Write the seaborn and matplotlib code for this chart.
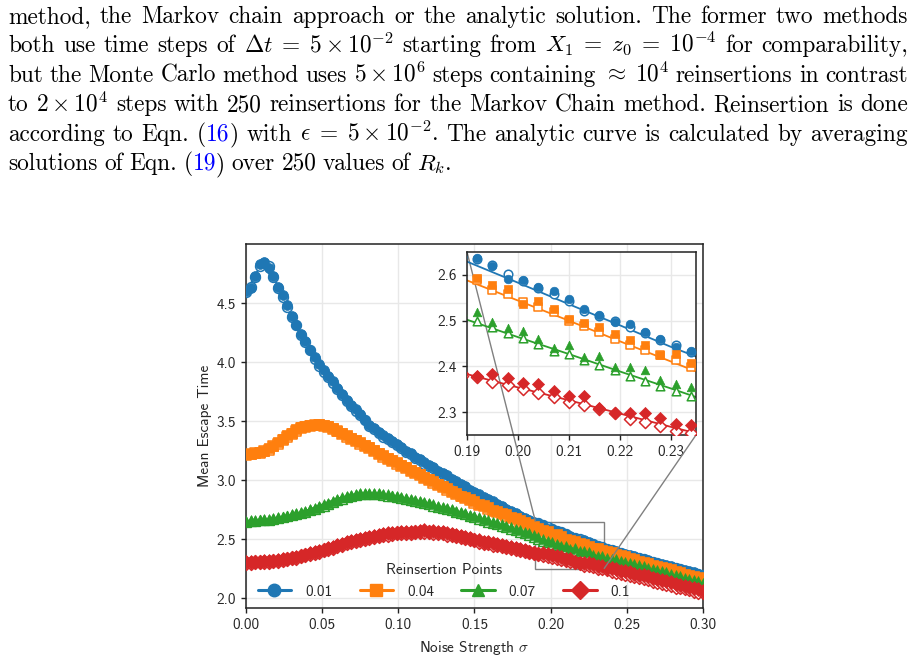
import re
import matplotlib
matplotlib.use("Agg")
import matplotlib.pyplot as plt
import seaborn as sns
from matplotlib.lines import Line2D
from mpl_toolkits.axes_grid1.inset_locator import mark_inset

sns.set_theme(style="ticks")
plt.rcParams["font.family"] = ["cmss10", "DejaVu Sans"]
plt.rcParams["mathtext.fontset"] = "cm"
plt.rcParams["axes.unicode_minus"] = False

# noise strength grid of the simulations
sigma = [
    0.000, 0.003, 0.006, 0.009, 0.012, 0.015, 0.018, 0.021, 0.024, 0.027,
    0.030, 0.033, 0.036, 0.039, 0.042, 0.045, 0.048, 0.051, 0.054, 0.057,
    0.060, 0.063, 0.066, 0.069, 0.072, 0.075, 0.078, 0.081, 0.084, 0.087,
    0.090, 0.093, 0.096, 0.099, 0.102, 0.105, 0.108, 0.111, 0.114, 0.117,
    0.120, 0.123, 0.126, 0.129, 0.132, 0.135, 0.138, 0.141, 0.144, 0.147,
    0.150, 0.153, 0.156, 0.159, 0.162, 0.165, 0.168, 0.171, 0.174, 0.177,
    0.180, 0.183, 0.186, 0.189, 0.192, 0.195, 0.198, 0.201, 0.204, 0.207,
    0.210, 0.213, 0.216, 0.219, 0.222, 0.225, 0.228, 0.231, 0.234, 0.237,
    0.240, 0.243, 0.246, 0.249, 0.252, 0.255, 0.258, 0.261, 0.264, 0.267,
    0.270, 0.273, 0.276, 0.279, 0.282, 0.285, 0.288, 0.291, 0.294, 0.297,
    0.300,
]
# grid of the analytic curves
sigma_an = [
    0.00, 0.01, 0.02, 0.03, 0.04, 0.05, 0.06, 0.07, 0.08, 0.09, 0.10,
    0.11, 0.12, 0.13, 0.14, 0.15, 0.16, 0.17, 0.18, 0.19, 0.20,
    0.21, 0.22, 0.23, 0.24, 0.25, 0.26, 0.27, 0.28, 0.29, 0.30,
]

# Monte Carlo (filled markers)
mc_001 = [
    4.60, 4.63, 4.73, 4.83, 4.85, 4.80, 4.73, 4.64, 4.57, 4.48,
    4.39, 4.31, 4.24, 4.18, 4.10, 4.04, 3.98, 3.93, 3.88, 3.84,
    3.78, 3.73, 3.68, 3.64, 3.60, 3.56, 3.51, 3.47, 3.44, 3.41,
    3.38, 3.36, 3.33, 3.31, 3.28, 3.25, 3.23, 3.20, 3.18, 3.15,
    3.13, 3.11, 3.08, 3.06, 3.04, 3.01, 2.99, 2.97, 2.95, 2.92,
    2.90, 2.88, 2.86, 2.84, 2.82, 2.80, 2.78, 2.76, 2.74, 2.72,
    2.70, 2.68, 2.665, 2.65, 2.636, 2.620, 2.591, 2.588, 2.574, 2.565,
    2.547, 2.525, 2.512, 2.496, 2.493, 2.475, 2.459, 2.443, 2.433, 2.42,
    2.41, 2.40, 2.385, 2.375, 2.365, 2.355, 2.345, 2.335, 2.325, 2.31,
    2.30, 2.29, 2.28, 2.27, 2.26, 2.25, 2.24, 2.23, 2.22, 2.21,
    2.20,
]
mc_004 = [
    3.22, 3.22, 3.23, 3.24, 3.25, 3.27, 3.29, 3.32, 3.35, 3.38,
    3.40, 3.43, 3.45, 3.46, 3.47, 3.47, 3.48, 3.47, 3.46, 3.44,
    3.42, 3.40, 3.38, 3.36, 3.34, 3.32, 3.30, 3.28, 3.26, 3.23,
    3.21, 3.19, 3.17, 3.15, 3.13, 3.11, 3.09, 3.07, 3.05, 3.03,
    3.01, 2.99, 2.97, 2.95, 2.93, 2.91, 2.89, 2.87, 2.86, 2.84,
    2.82, 2.80, 2.79, 2.77, 2.75, 2.74, 2.72, 2.71, 2.69, 2.68,
    2.66, 2.645, 2.63, 2.61, 2.593, 2.578, 2.569, 2.536, 2.542, 2.525,
    2.504, 2.494, 2.487, 2.470, 2.457, 2.446, 2.424, 2.428, 2.408, 2.40,
    2.39, 2.375, 2.365, 2.355, 2.34, 2.33, 2.32, 2.31, 2.295, 2.285,
    2.275, 2.265, 2.255, 2.245, 2.235, 2.225, 2.21, 2.20, 2.19, 2.18,
    2.17,
]
mc_007 = [
    2.655, 2.66, 2.66, 2.665, 2.67, 2.67, 2.68, 2.685, 2.69, 2.70,
    2.71, 2.72, 2.73, 2.74, 2.755, 2.765, 2.78, 2.795, 2.81, 2.825,
    2.84, 2.855, 2.865, 2.875, 2.885, 2.89, 2.895, 2.895, 2.89, 2.89,
    2.885, 2.88, 2.87, 2.865, 2.86, 2.85, 2.84, 2.835, 2.825, 2.815,
    2.805, 2.795, 2.785, 2.775, 2.765, 2.755, 2.74, 2.73, 2.72, 2.705,
    2.695, 2.685, 2.675, 2.66, 2.65, 2.64, 2.625, 2.615, 2.60, 2.59,
    2.575, 2.565, 2.55, 2.535, 2.518, 2.498, 2.484, 2.478, 2.460, 2.441,
    2.446, 2.420, 2.423, 2.399, 2.399, 2.393, 2.370, 2.361, 2.355, 2.345,
    2.335, 2.33, 2.32, 2.31, 2.30, 2.29, 2.28, 2.27, 2.26, 2.25,
    2.24, 2.23, 2.22, 2.21, 2.20, 2.19, 2.175, 2.165, 2.155, 2.145,
    2.13,
]
mc_010 = [
    2.305, 2.31, 2.305, 2.31, 2.315, 2.315, 2.32, 2.325, 2.33, 2.335,
    2.345, 2.35, 2.36, 2.37, 2.38, 2.39, 2.40, 2.41, 2.425, 2.435,
    2.45, 2.46, 2.475, 2.485, 2.495, 2.505, 2.51, 2.52, 2.53, 2.535,
    2.545, 2.55, 2.55, 2.555, 2.56, 2.56, 2.565, 2.565, 2.57, 2.575,
    2.565, 2.57, 2.56, 2.56, 2.55, 2.545, 2.535, 2.53, 2.52, 2.51,
    2.495, 2.49, 2.48, 2.475, 2.465, 2.46, 2.45, 2.445, 2.435, 2.425,
    2.415, 2.405, 2.395, 2.385, 2.378, 2.384, 2.375, 2.364, 2.362, 2.346,
    2.335, 2.335, 2.308, 2.299, 2.299, 2.299, 2.288, 2.273, 2.271, 2.26,
    2.255, 2.245, 2.235, 2.23, 2.22, 2.21, 2.20, 2.195, 2.185, 2.175,
    2.165, 2.155, 2.145, 2.135, 2.125, 2.115, 2.105, 2.095, 2.085, 2.075,
    2.065,
]

# Markov chain (open markers)
mk_001 = [
    4.59, 4.64, 4.72, 4.81, 4.84, 4.81, 4.72, 4.63, 4.55, 4.47,
    4.38, 4.31, 4.23, 4.17, 4.10, 4.03, 3.97, 3.92, 3.87, 3.82,
    3.77, 3.72, 3.67, 3.63, 3.59, 3.55, 3.51, 3.46, 3.43, 3.40,
    3.37, 3.35, 3.32, 3.30, 3.27, 3.24, 3.22, 3.19, 3.17, 3.14,
    3.12, 3.10, 3.07, 3.05, 3.03, 3.00, 2.98, 2.96, 2.94, 2.91,
    2.89, 2.87, 2.85, 2.83, 2.81, 2.79, 2.77, 2.75, 2.73, 2.71,
    2.69, 2.67, 2.655, 2.64, 2.634, 2.622, 2.602, 2.587, 2.571, 2.558,
    2.543, 2.522, 2.510, 2.500, 2.487, 2.472, 2.457, 2.446, 2.431, 2.415,
    2.405, 2.39, 2.38, 2.37, 2.36, 2.35, 2.34, 2.33, 2.32, 2.305,
    2.295, 2.285, 2.275, 2.265, 2.255, 2.245, 2.235, 2.225, 2.215, 2.205,
    2.195,
]
mk_004 = [
    3.21, 3.22, 3.23, 3.23, 3.25, 3.26, 3.29, 3.31, 3.34, 3.37,
    3.39, 3.42, 3.44, 3.45, 3.46, 3.47, 3.47, 3.46, 3.45, 3.43,
    3.42, 3.39, 3.37, 3.35, 3.33, 3.31, 3.29, 3.27, 3.25, 3.22,
    3.20, 3.18, 3.16, 3.14, 3.12, 3.10, 3.08, 3.06, 3.04, 3.02,
    3.00, 2.98, 2.96, 2.94, 2.92, 2.90, 2.88, 2.87, 2.85, 2.83,
    2.81, 2.79, 2.78, 2.76, 2.74, 2.73, 2.71, 2.70, 2.68, 2.67,
    2.65, 2.635, 2.62, 2.60, 2.588, 2.568, 2.558, 2.540, 2.529, 2.518,
    2.500, 2.488, 2.475, 2.460, 2.446, 2.435, 2.424, 2.413, 2.399, 2.39,
    2.38, 2.365, 2.355, 2.345, 2.33, 2.32, 2.31, 2.30, 2.285, 2.275,
    2.265, 2.255, 2.245, 2.235, 2.225, 2.215, 2.20, 2.19, 2.18, 2.17,
    2.16,
]
mk_007 = [
    2.65, 2.655, 2.655, 2.66, 2.665, 2.665, 2.675, 2.68, 2.685, 2.695,
    2.705, 2.715, 2.725, 2.735, 2.745, 2.76, 2.77, 2.785, 2.80, 2.815,
    2.83, 2.845, 2.855, 2.865, 2.875, 2.88, 2.885, 2.885, 2.885, 2.88,
    2.875, 2.87, 2.865, 2.855, 2.85, 2.84, 2.83, 2.825, 2.815, 2.805,
    2.795, 2.785, 2.775, 2.765, 2.755, 2.745, 2.73, 2.72, 2.71, 2.695,
    2.685, 2.675, 2.665, 2.65, 2.64, 2.63, 2.615, 2.605, 2.59, 2.58,
    2.565, 2.55, 2.535, 2.52, 2.499, 2.486, 2.473, 2.461, 2.449, 2.433,
    2.426, 2.415, 2.403, 2.391, 2.379, 2.368, 2.357, 2.346, 2.335, 2.325,
    2.315, 2.305, 2.295, 2.285, 2.275, 2.265, 2.255, 2.245, 2.235, 2.225,
    2.215, 2.205, 2.195, 2.185, 2.175, 2.165, 2.155, 2.145, 2.135, 2.125,
    2.115,
]
mk_010 = [
    2.30, 2.30, 2.305, 2.305, 2.31, 2.31, 2.315, 2.32, 2.325, 2.33,
    2.34, 2.345, 2.355, 2.365, 2.375, 2.385, 2.395, 2.405, 2.415, 2.43,
    2.44, 2.455, 2.465, 2.475, 2.485, 2.495, 2.505, 2.51, 2.52, 2.525,
    2.535, 2.54, 2.545, 2.55, 2.55, 2.555, 2.555, 2.56, 2.56, 2.56,
    2.56, 2.555, 2.55, 2.55, 2.54, 2.535, 2.525, 2.52, 2.51, 2.50,
    2.49, 2.48, 2.47, 2.465, 2.455, 2.45, 2.44, 2.435, 2.425, 2.415,
    2.405, 2.40, 2.39, 2.38, 2.377, 2.366, 2.359, 2.350, 2.341, 2.333,
    2.322, 2.315, 2.306, 2.297, 2.286, 2.279, 2.270, 2.259, 2.254, 2.245,
    2.235, 2.225, 2.215, 2.205, 2.20, 2.19, 2.18, 2.17, 2.16, 2.15,
    2.14, 2.13, 2.12, 2.11, 2.10, 2.095, 2.085, 2.075, 2.065, 2.055,
    2.05,
]

# analytic solution (lines)
an_001 = [4.59, 4.83, 4.67, 4.38, 4.15, 3.94, 3.77, 3.62, 3.48, 3.37, 3.29,
          3.20, 3.12, 3.04, 2.97, 2.89, 2.83, 2.76, 2.69, 2.629, 2.583,
          2.536, 2.490, 2.443, 2.40, 2.36, 2.32, 2.29, 2.25, 2.22, 2.19]
an_004 = [3.21, 3.24, 3.30, 3.39, 3.45, 3.47, 3.42, 3.35, 3.28, 3.21, 3.14,
          3.06, 3.00, 2.94, 2.88, 2.81, 2.75, 2.70, 2.64, 2.588, 2.544,
          2.500, 2.455, 2.411, 2.367, 2.33, 2.30, 2.26, 2.23, 2.19, 2.16]
an_007 = [2.65, 2.66, 2.675, 2.705, 2.745, 2.795, 2.845, 2.88, 2.89, 2.875, 2.855,
          2.825, 2.795, 2.76, 2.72, 2.675, 2.635, 2.59, 2.545, 2.502, 2.464,
          2.427, 2.389, 2.352, 2.314, 2.28, 2.25, 2.21, 2.18, 2.15, 2.115]
an_010 = [2.30, 2.305, 2.32, 2.34, 2.37, 2.41, 2.455, 2.495, 2.525, 2.545, 2.555,
          2.56, 2.56, 2.545, 2.52, 2.49, 2.46, 2.435, 2.41, 2.383, 2.354,
          2.326, 2.297, 2.268, 2.240, 2.21, 2.18, 2.15, 2.12, 2.09, 2.06]

labels = ["0.01", "0.04", "0.07", "0.1"]
colors = ["#1f77b4", "#ff7f0e", "#2ca02c", "#d62728"]
markers = ["o", "s", "^", "D"]
mc_all = [mc_001, mc_004, mc_007, mc_010]
mk_all = [mk_001, mk_004, mk_007, mk_010]
an_all = [an_001, an_004, an_007, an_010]

para_lines = [
    "method, the Markov chain approach or the analytic solution. The former two methods",
    r"both use time steps of $\Delta t \;=\; 5 \times 10^{-2}$ starting from $X_1 \;=\; z_0 \;=\; 10^{-4}$ for comparability,",
    r"but the Monte Carlo method uses $5 \times 10^6$ steps containing $\approx\; 10^4$ reinsertions in contrast",
    r"to $2 \times 10^4$ steps with 250 reinsertions for the Markov Chain method. Reinsertion is done",
    r"according to Eqn. ([16]) with $\epsilon \;=\; 5 \times 10^{-2}$. The analytic curve is calculated by averaging",
    r"solutions of Eqn. ([19]) over 250 values of $R_k$.",
]

W, H = 915, 660
fig = plt.figure(figsize=(W / 100, H / 100), dpi=100)
renderer = fig.canvas.get_renderer()

# paragraph above the figure, justified like the LaTeX page
para_size = 16.8
left_px, right_px = 8, 908
for i, line in enumerate(para_lines):
    base = 23 + 29.4 * i
    tokens = re.findall(r"(?:[^\s$]|\$[^$]*\$)+", line)
    words = []
    for tok in tokens:
        parts = re.split(r"\[(.*?)\]", tok)
        pieces = []
        for k, part in enumerate(parts):
            if not part:
                continue
            t = fig.text(0, 1 - base / H, part, family="cmr10", fontsize=para_size,
                         color="blue" if k % 2 else "black", va="baseline", ha="left")
            pieces.append((t, t.get_window_extent(renderer=renderer).width))
        words.append(pieces)
    widths = [sum(w for _, w in p) for p in words]
    if i < len(para_lines) - 1:
        gap = (right_px - left_px - sum(widths)) / (len(words) - 1)
    else:
        gap = para_size * 100 / 72 * 0.28
    x = left_px
    for pieces in words:
        for t, w in pieces:
            t.set_x(x / W)
            x += w
        x += gap

# main chart
ax = fig.add_axes([246 / W, 1 - 608 / H, (703 - 246) / W, (608 - 244) / H])
axins = fig.add_axes([467 / W, 1 - 435 / H, 229 / W, 183 / H])


def draw(a, ms):
    for c, m, mc, mk, an in zip(colors, markers, mc_all, mk_all, an_all):
        sns.lineplot(x=sigma_an, y=an, ax=a, color=c, lw=1.3, zorder=2, legend=False)
        sns.scatterplot(x=sigma, y=mk, ax=a, marker=m, s=ms, color="white",
                        edgecolor=c, linewidth=1.1, zorder=3, legend=False)
        sns.scatterplot(x=sigma, y=mc, ax=a, marker=m, s=ms, color=c,
                        edgecolor=c, linewidth=0.5, zorder=4, legend=False)


for a in (ax, axins):
    a.grid(True, color="#e8e8e8", lw=1)
    a.set_axisbelow(True)
    for sp in a.spines.values():
        sp.set_color("#222222")
        sp.set_linewidth(1.1)
    a.tick_params(labelsize=11, length=3.5, width=1, color="#222222", pad=4)

draw(ax, 50)
ax.set_xlim(0.0, 0.30)
ax.set_ylim(1.918, 5.0)
ax.set_xticks([0.0, 0.05, 0.10, 0.15, 0.20, 0.25, 0.30])
ax.set_yticks([2.0, 2.5, 3.0, 3.5, 4.0, 4.5])
ax.set_xlabel(r"Noise Strength $\sigma$", fontsize=11, labelpad=5)
ax.set_ylabel("Mean Escape Time", fontsize=11, labelpad=3)

draw(axins, 38)
axins.set_xlim(0.19, 0.235)
axins.set_ylim(2.25, 2.65)
axins.set_xticks([0.19, 0.20, 0.21, 0.22, 0.23])
axins.set_yticks([2.3, 2.4, 2.5, 2.6])
axins.set_xlabel("")
axins.set_ylabel("")
mark_inset(ax, axins, loc1=2, loc2=4, fc="none", ec="0.5", lw=1)

handles = [Line2D([], [], color=c, marker=m, lw=2.2, markersize=9, markeredgecolor=c)
           for c, m in zip(colors, markers)]
ax.legend(handles, labels, title="Reinsertion Points", loc="lower center",
          bbox_to_anchor=(0.433, 0.0), ncol=4, frameon=False, fontsize=11,
          title_fontsize=11, handlelength=2.2, handletextpad=0.9,
          columnspacing=1.8, borderaxespad=0.2)

fig.savefig("out.png", dpi=100)
